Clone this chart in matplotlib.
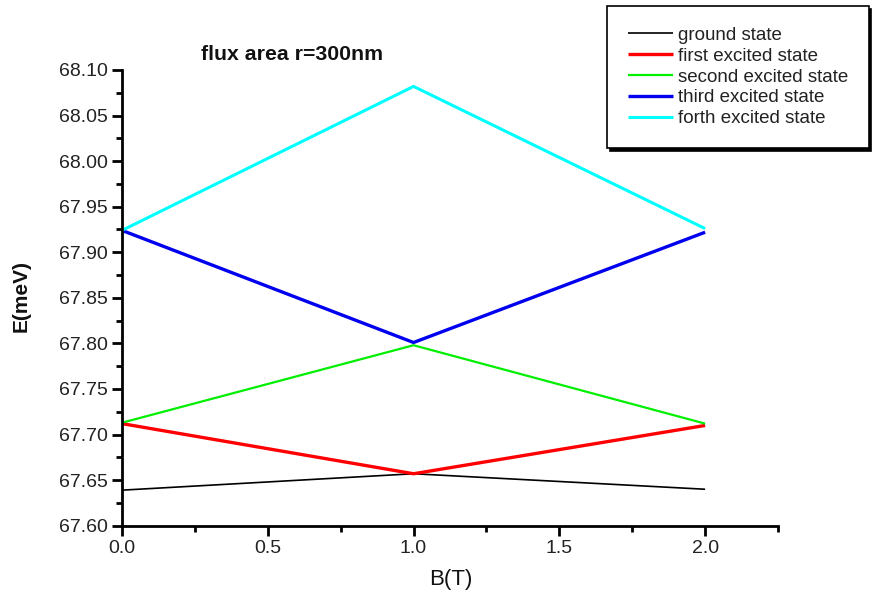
import matplotlib
matplotlib.use("Agg")
import matplotlib.pyplot as plt
from matplotlib.ticker import MultipleLocator, FormatStrFormatter

plt.rcParams['font.family'] = ['Liberation Sans', 'DejaVu Sans']

# data
B = [0.0, 1.0, 2.0]
ground = [67.639, 67.657, 67.640]
first = [67.712, 67.657, 67.710]
second = [67.713, 67.798, 67.712]
third = [67.924, 67.801, 67.922]
forth = [67.924, 68.082, 67.926]

names = ["ground state", "first excited state", "second excited state",
         "third excited state", "forth excited state"]
colors = ["black", "#ff0000", "#00ee00", "#0000ee", "#00ffff"]
widths = [1.2, 2.4, 1.6, 2.4, 2.2]

fig = plt.figure(figsize=(8.77, 6), dpi=100)
ax = fig.add_axes([122/877, 1-525.7/600, (778-122)/877, (525.7-70)/600])

for ys, nm, c, lw in zip([ground, first, second, third, forth], names, colors, widths):
    ax.plot(B, ys, color=c, lw=lw, label=nm, solid_capstyle='butt')

ax.set_xlim(0, 2.25)
ax.set_ylim(67.60, 68.10)
ax.xaxis.set_major_locator(MultipleLocator(0.5))
ax.xaxis.set_minor_locator(MultipleLocator(0.25))
ax.yaxis.set_major_locator(MultipleLocator(0.05))
ax.yaxis.set_minor_locator(MultipleLocator(0.025))
ax.xaxis.set_major_formatter(FormatStrFormatter('%.1f'))
ax.yaxis.set_major_formatter(FormatStrFormatter('%.2f'))

for s in ['top', 'right']:
    ax.spines[s].set_visible(False)
for s in ['left', 'bottom']:
    ax.spines[s].set_linewidth(2)
ax.tick_params(which='major', direction='out', length=7, width=2,
               labelsize=14, labelcolor='#222222', pad=3)
ax.tick_params(which='minor', direction='out', length=4, width=2)

fig.text(21/877, 1-296/600, "E(meV)", rotation=90, ha='center', va='center',
         fontsize=15, fontweight='semibold', color='#111111')
fig.text(451/877, 1-580/600, "B(T)", ha='center', va='center',
         fontsize=16, color='#111111')
fig.text(201/877, 1-60/600, "flux area r=300nm", ha='left', va='baseline',
         fontsize=15.3, fontweight='bold', color='#111111')

leg = fig.legend(loc='upper left', bbox_to_anchor=(607/877, 1-6/600),
                 fontsize=13.5, frameon=True, fancybox=False,
                 handlelength=2.4, handletextpad=0.27, labelspacing=0.2,
                 borderpad=1.1, borderaxespad=0,
                 shadow={'color': 'black', 'alpha': 1})
leg.get_frame().set_edgecolor('black')
leg.get_frame().set_linewidth(1.2)
for t in leg.get_texts():
    t.set_color('#222222')

fig.savefig("out.png", dpi=100)
